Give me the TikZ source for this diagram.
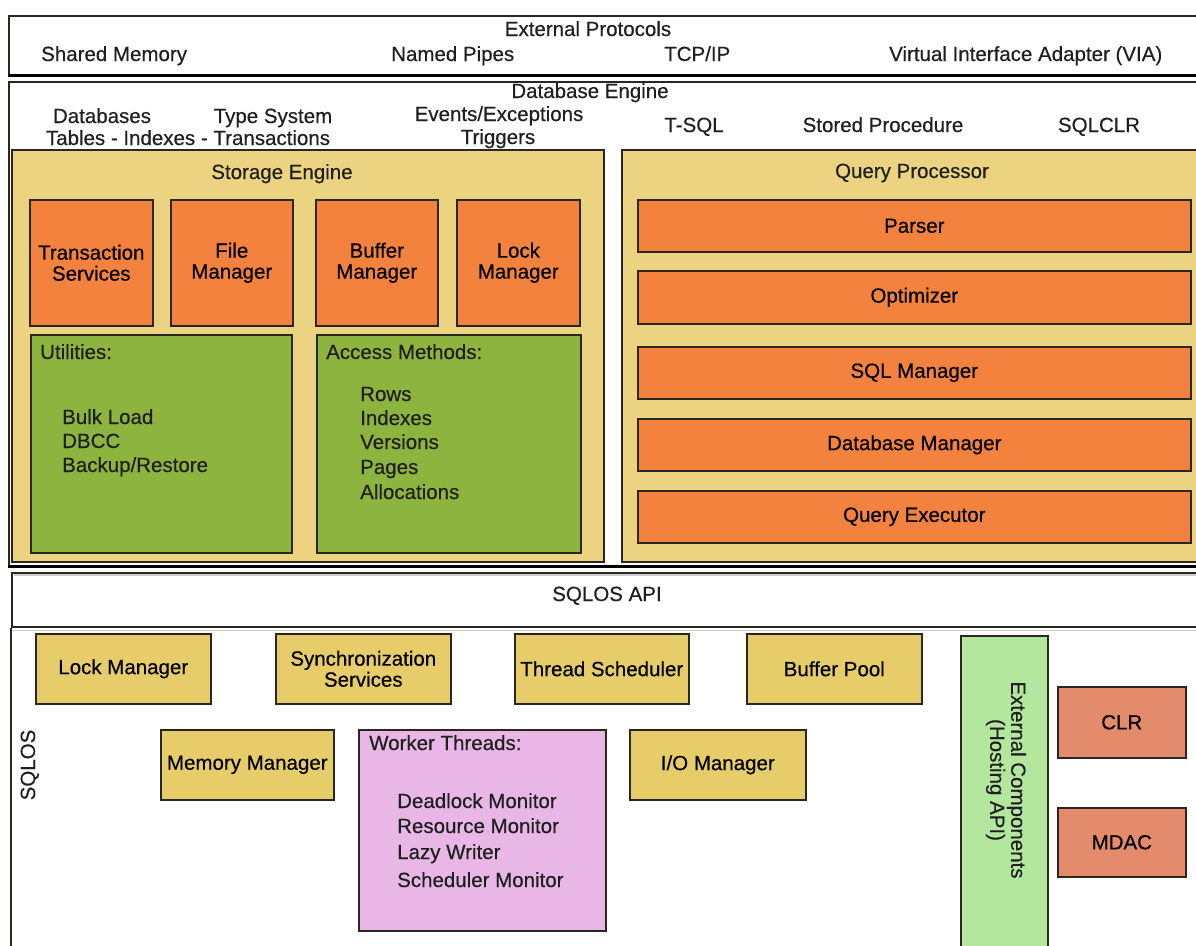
\documentclass[tikz,border=0pt]{standalone}
\usepackage{fontspec}
\setmainfont{Liberation Sans}[FakeBold=0.4]
\newcommand\dgfont{\fontsize{20.5}{21}\selectfont}

\definecolor{tanbg}{HTML}{EBD382}
\definecolor{orangebox}{HTML}{F4823F}
\definecolor{greenbox}{HTML}{8CB43E}
\definecolor{yellowbox}{HTML}{E7CC6A}
\definecolor{pinkbox}{HTML}{E8B7E6}
\definecolor{mintbox}{HTML}{B4E79E}
\definecolor{salmonbox}{HTML}{E38B6B}
\definecolor{edge}{HTML}{2A2620}

\tikzset{
  frame/.style={draw=edge, line width=1.6pt},
  box/.style={frame, anchor=north west, inner sep=0pt, align=center, font=\dgfont},
  txt/.style={inner sep=0pt, font=\dgfont, text=black!88, text height=17pt, text depth=3pt},
  lt/.style={txt, anchor=west},
}

\begin{document}
\begin{tikzpicture}[x=1pt, y=-1pt]
\clip (0,0) rectangle (1196,945);
\fill[white] (0,0) rectangle (1196,945);

% External protocols band
\node[frame, fill=white, anchor=north west, minimum width=1210pt, minimum height=59pt, inner sep=0pt] (ep) at (8,15) {};
\draw[black, line width=3.5pt] (ep.south west) -- (ep.south east);
\node[txt] (eptitle) at (588,29) {External Protocols};
\node[lt] (shm) at (41,54) {Shared Memory};
\node[lt] (np) at (391,54) {Named Pipes};
\node[lt] (tcp) at (664,54) {TCP/IP};
\node[lt] (via) at (889,54) {Virtual Interface Adapter (VIA)};

% Database engine
\node[frame, fill=white, anchor=north west, minimum width=1210pt, minimum height=484pt, inner sep=0pt] (de) at (8,81) {};
\draw[black, line width=3.5pt] (de.south west) -- (de.south east);
\node[txt] (detitle) at (590,91) {Database Engine};
\node[txt] (dbs) at (102,116) {Databases};
\node[txt] (ts) at (273,116) {Type System};
\node[txt] (tit) at (188,138) {Tables - Indexes - Transactions};
\node[txt] (ev) at (499,114) {Events/Exceptions};
\node[txt] (trg) at (498,137) {Triggers};
\node[txt] (tsql) at (694,125) {T-SQL};
\node[txt] (sp) at (883,125) {Stored Procedure};
\node[txt] (clrl) at (1099,125) {SQLCLR};

% Storage engine
\node[frame, fill=tanbg, anchor=north west, minimum width=592pt, minimum height=412pt, inner sep=0pt] (se) at (11,149) {};
\node[txt] (setitle) at (282,172) {Storage Engine};
\node[box, fill=orangebox, minimum width=123pt, minimum height=126pt] (trans) at (29,199) {Transaction\\Services};
\node[box, fill=orangebox, minimum width=122pt, minimum height=126pt] (file) at (170,199) {File\\Manager};
\node[box, fill=orangebox, minimum width=122pt, minimum height=126pt] (buf) at (315,199) {Buffer\\Manager};
\node[box, fill=orangebox, minimum width=123pt, minimum height=126pt] (lock) at (456,199) {Lock\\Manager};
\node[box, fill=greenbox, minimum width=261pt, minimum height=218pt] (util) at (30,334) {};
\node[box, fill=greenbox, minimum width=264pt, minimum height=218pt] (acc) at (316,334) {};
\node[lt] (utilt) at (40,352) {Utilities:};
\node[lt] (bulk) at (62,417) {Bulk Load};
\node[lt] (dbcc) at (62,441) {DBCC};
\node[lt] (bkp) at (62,465) {Backup/Restore};
\node[lt] (acct) at (326,352) {Access Methods:};
\node[lt] (rows) at (360,394) {Rows};
\node[lt] (idx) at (360,418) {Indexes};
\node[lt] (ver) at (360,442) {Versions};
\node[lt] (pg) at (360,467) {Pages};
\node[lt] (alloc) at (360,492) {Allocations};

% Query processor
\node[frame, fill=tanbg, anchor=north west, minimum width=600pt, minimum height=412pt, inner sep=0pt] (qp) at (621,149) {};
\node[txt] (qptitle) at (912,171) {Query Processor};
\node[box, fill=orangebox, minimum width=553pt, minimum height=52pt] (parser) at (637,199) {Parser};
\node[box, fill=orangebox, minimum width=553pt, minimum height=53pt] (opt) at (637,270) {Optimizer};
\node[box, fill=orangebox, minimum width=553pt, minimum height=52pt] (sqlm) at (637,346) {SQL Manager};
\node[box, fill=orangebox, minimum width=553pt, minimum height=52pt] (dbm) at (637,418) {Database Manager};
\node[box, fill=orangebox, minimum width=553pt, minimum height=52pt] (qe) at (637,490) {Query Executor};

% SQLOS API band and SQLOS area
\node[frame, fill=white, anchor=north west, minimum width=1210pt, minimum height=54pt, inner sep=0pt] (api) at (11,572) {};
\draw[black!20, line width=1.5pt] (14,575) -- (1196,575);
\draw[black!20, line width=1.5pt] (api.south west) ++(0,3) -- ++(1200,0);
\node[txt] (apit) at (607,594) {SQLOS API};
\coordinate (osbot) at (11,950);
\draw[frame] (api.south west) -- (osbot);
\node[txt, rotate=90] (sqlos) at (28,765) {SQLOS};

\node[box, fill=yellowbox, minimum width=175pt, minimum height=70pt] (oslock) at (35,633) {Lock Manager};
\node[box, fill=yellowbox, minimum width=175pt, minimum height=70pt] (sync) at (275,633) {Synchronization\\Services};
\node[box, fill=yellowbox, minimum width=174pt, minimum height=70pt] (thr) at (514,633) {Thread Scheduler};
\node[box, fill=yellowbox, minimum width=175pt, minimum height=70pt] (bp) at (746,633) {Buffer Pool};
\node[box, fill=yellowbox, minimum width=173pt, minimum height=70pt] (mem) at (160,729) {Memory Manager};
\node[box, fill=yellowbox, minimum width=176pt, minimum height=70pt] (io) at (629,729) {I/O Manager};

\node[box, fill=pinkbox, minimum width=247pt, minimum height=201pt] (wt) at (358,729) {};
\node[lt] (wtt) at (369,743) {Worker Threads:};
\node[lt] (dl) at (397,801) {Deadlock Monitor};
\node[lt] (rm) at (397,826) {Resource Monitor};
\node[lt] (lw) at (397,852) {Lazy Writer};
\node[lt] (sm) at (397,880) {Scheduler Monitor};

\node[box, fill=mintbox, minimum width=87pt, minimum height=330pt] (ext) at (960,635) {};
\node[inner sep=0pt, font=\dgfont, text=black!88, rotate=-90, align=center] (extt) at (1006,780) {External Components\\(Hosting API)};
\node[box, fill=salmonbox, minimum width=128pt, minimum height=71pt] (clr) at (1057,686) {CLR};
\node[box, fill=salmonbox, minimum width=128pt, minimum height=69pt] (mdac) at (1057,807) {MDAC};
\end{tikzpicture}
\end{document}
